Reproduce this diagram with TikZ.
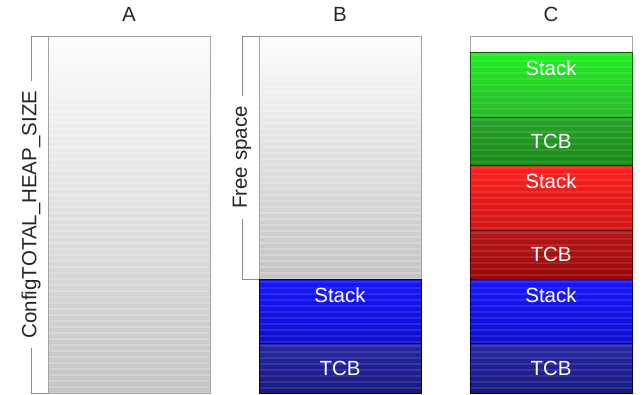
\documentclass[tikz,border=0pt]{standalone}
\usepackage{fontspec}
\setmainfont{Liberation Sans}
\usetikzlibrary{positioning}

\definecolor{rimgray}{HTML}{A4A4A4}
\definecolor{bluetop}{HTML}{1616FF}
\definecolor{bluebot}{HTML}{0F0FCC}
\definecolor{navytop}{HTML}{2828A6}
\definecolor{navybot}{HTML}{18187E}
\definecolor{greentop}{HTML}{20F020}
\definecolor{greenbot}{HTML}{26B826}
\definecolor{leaftop}{HTML}{2AA42A}
\definecolor{leafbot}{HTML}{168A16}
\definecolor{redtop}{HTML}{FF2020}
\definecolor{redbot}{HTML}{D01414}
\definecolor{rusttop}{HTML}{B81616}
\definecolor{rustbot}{HTML}{980A0A}

\begin{document}
\begin{tikzpicture}[
        x=1pt, y=-1pt,
        font=\fontsize{20.5}{24}\selectfont,
        mem/.style={draw, minimum width=162pt, inner sep=0pt, outer sep=0pt, anchor=north west, line width=0.8pt},
        stripes/.style={path picture={
            \foreach \k in {3,9,...,400}
              \draw[#1, line width=2pt] ([yshift=-\k pt]path picture bounding box.north west)
                -- ([yshift=-\k pt]path picture bounding box.north east);}},
        heap/.style={mem, draw=rimgray, top color=black!1, bottom color=black!23, stripes={white, opacity=.2}},
        stackbox/.style 2 args={mem, draw=#2, top color=#1top, bottom color=#1bot, stripes={white, opacity=.1},
          label={[lbl, anchor=north, yshift=-5pt]north:Stack}},
        tcbbox/.style 2 args={mem, draw=#2, top color=#1top, bottom color=#1bot, stripes={white, opacity=.1},
          text=white, text depth=0pt},
        lbl/.style={text=white, inner sep=3pt},
        head/.style={inner sep=0pt, text=black!85},
        bracket/.style={draw=black!45, line width=0.8pt},
        sidetext/.style={fill=white, rotate=90, inner xsep=10pt, inner ysep=1pt, text=black!85},
        node distance=0pt
      ]
        \useasboundingbox (0,0) rectangle (643,394);

        % A: whole heap
        \node[heap, minimum height=357pt] (heapA) at (48,36) {};
        \node[head, above=14pt of heapA] (headA) {A};
        \draw[bracket] (heapA.north west) -- ++(-17,0) coordinate (topA)
          -- (topA |- heapA.south west) node[midway, sidetext] (sizeA) {ConfigTOTAL\_HEAP\_SIZE}
          -- (heapA.south west);

        % B: one task
        \node[heap, minimum height=243pt] (freeB) at (259,36) {};
        \node[stackbox={blue}{blue!45!black}, minimum height=64pt, below=of freeB] (stackB) {};
        \node[tcbbox={navy}{blue!30!black}, minimum height=50pt, below=of stackB] (tcbB) {TCB};
        \node[head, above=14pt of freeB] (headB) {B};
        \draw[bracket] (freeB.north west) -- ++(-17,0) coordinate (topB)
          -- (topB |- freeB.south west) node[midway, sidetext] (spaceB) {Free space}
          -- (freeB.south west);

        % C: three tasks
        \node[mem, draw=rimgray, fill=white, minimum height=16pt] (restC) at (470,36) {};
        \node[stackbox={green}{green!40!black}, minimum height=65pt, below=of restC] (stackC1) {};
        \node[tcbbox={leaf}{green!35!black}, minimum height=48pt, below=of stackC1] (tcbC1) {TCB};
        \node[stackbox={red}{red!40!black}, minimum height=65pt, below=of tcbC1] (stackC2) {};
        \node[tcbbox={rust}{red!35!black}, minimum height=49pt, below=of stackC2] (tcbC2) {TCB};
        \node[stackbox={blue}{blue!45!black}, minimum height=64pt, below=of tcbC2] (stackC3) {};
        \node[tcbbox={navy}{blue!30!black}, minimum height=50pt, below=of stackC3] (tcbC3) {TCB};
        \node[head, above=14pt of restC] (headC) {C};
      \end{tikzpicture}
\end{document}
